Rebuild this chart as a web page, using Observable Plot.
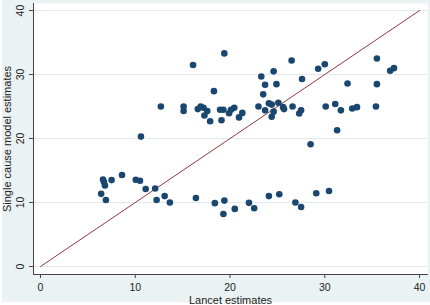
<!DOCTYPE html>
<html><head><meta charset="utf-8">
<script src="https://cdn.jsdelivr.net/npm/d3@7"></script>
<script src="https://cdn.jsdelivr.net/npm/@observablehq/plot@0.6"></script>
<style>
body{margin:0;background:#fff}
#chart svg{display:block;background:linear-gradient(to right,#fff 2px,transparent 2px),linear-gradient(to top,#fff 3px,#eaf2f3 3px)}
</style>
</head><body><div id="chart"></div>
<script>
const lancet = [
  6.4, 6.6, 6.7, 6.8, 6.9, 7.5, 8.6, 10.05, 10.5, 11.1, 12.1, 12.25, 13.1, 13.65, 16.4,
  18.4, 19.4, 19.3, 20.5, 22.0, 22.55, 24.1, 25.2, 26.9, 27.5, 29.1, 30.45,
  10.6, 12.7, 15.1, 15.1, 16.1, 16.6, 16.9, 17.2, 17.3, 17.6, 17.9, 18.3, 19.4, 18.95, 19.3, 19.1, 19.9, 20.1, 20.45, 20.95,
  21.3, 23.0, 23.3, 23.5, 23.7, 23.7, 24.1, 24.4, 24.6, 24.9, 24.4, 24.6, 25.1, 25.6, 25.7, 26.5, 26.6, 27.3, 27.5, 27.6,
  28.5, 29.3, 30.0, 30.1, 31.1, 31.3, 31.7, 32.4, 32.9, 33.4, 35.4, 35.5, 35.5, 36.9, 37.3
];
const singleCause = [
  11.35, 13.6, 13.2, 12.65, 10.4, 13.5, 14.3, 13.55, 13.4, 12.1, 12.2, 10.4, 11.0, 10.0, 10.7,
  9.9, 10.3, 8.2, 9.0, 9.95, 9.1, 11.0, 11.3, 10.0, 9.3, 11.45, 11.8,
  20.3, 25.0, 25.0, 24.3, 31.5, 24.6, 25.0, 24.8, 23.6, 24.3, 22.7, 27.4, 33.3, 24.5, 24.5, 22.85, 23.95, 24.5, 24.8, 23.3,
  24.0, 25.0, 29.7, 26.9, 28.4, 24.4, 25.5, 25.3, 30.5, 28.5, 23.4, 24.2, 25.6, 24.9, 24.6, 32.2, 25.0, 23.9, 24.4, 29.3,
  19.1, 30.9, 31.6, 25.0, 25.4, 21.3, 24.4, 28.6, 24.7, 24.9, 25.0, 28.5, 32.5, 30.6, 31.0
];
const lineX = [0, 40];
const lineY = [0, 40];
const xTicks = [0, 10, 20, 30, 40];
const yTicks = [0, 10, 20, 30, 40];
const xLabel = "Lancet estimates";
const yLabel = "Single cause model estimates";

const points = lancet.map((x, i) => ({x, y: singleCause[i]}));
const diag = lineX.map((x, i) => ({x, y: lineY[i]}));

const chart = Plot.plot({
  width: 430, height: 305,
  marginLeft: 33, marginRight: 3, marginTop: 3, marginBottom: 31,
  style: {fontFamily: "'Liberation Sans', Arial, sans-serif", fontSize: "10px", color: "#222"},
  x: {domain: [-0.74, 40.84]},
  y: {domain: [-1.25, 41.1]},
  marks: [
    Plot.frame({fill: "white", stroke: "none"}),
    Plot.gridY(yTicks, {stroke: "#dfe9ee", strokeOpacity: 1, strokeWidth: 1}),
    Plot.line(diag, {x: "x", y: "y", stroke: "#94393f", strokeWidth: 1}),
    Plot.dot(points, {x: "x", y: "y", r: 3.3, fill: "#1a476f", stroke: "none"}),
    Plot.axisX(xTicks, {tickSize: 4, tickPadding: 5.5, stroke: "#444", fontSize: 10.5,
      label: null}),
    Plot.axisX({ticks: [], tickSize: 0, label: xLabel, labelAnchor: "center", labelArrow: "none",
      labelOffset: 29, fontSize: 11}),
    Plot.axisY(yTicks, {tickSize: 4, tickPadding: 6, tickRotate: -90, stroke: "#444", fontSize: 10.5,
      label: null}),
    Plot.axisY({ticks: [], tickSize: 0, label: yLabel, labelAnchor: "center", labelArrow: "none",
      labelOffset: 30, fontSize: 11}),
    Plot.frame({anchor: "left", stroke: "#444"}),
    Plot.frame({anchor: "bottom", stroke: "#444"})
  ]
});
document.getElementById("chart").append(chart);
</script>
</body></html>
